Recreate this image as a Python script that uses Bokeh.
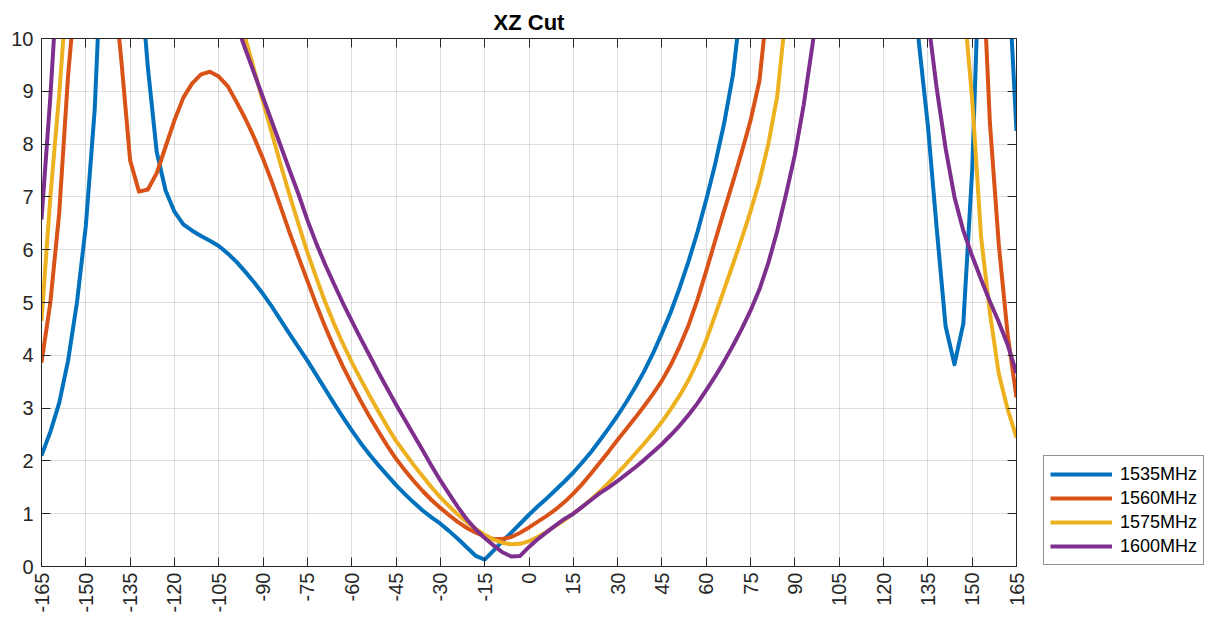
import math
from bokeh.plotting import figure
from bokeh.layouts import row
from bokeh.models import Range1d, FixedTicker, LinearAxis, Legend, LegendItem
from bokeh.embed import file_html
from bokeh.resources import INLINE

angles = [-165, -162, -159, -156, -153, -150, -147, -144, -141, -138,
          -135, -132, -129, -126, -123, -120, -117, -114, -111, -108,
          -105, -102, -99, -96, -93, -90, -87, -84, -81, -78,
          -75, -72, -69, -66, -63, -60, -57, -54, -51, -48,
          -45, -42, -39, -36, -33, -30, -27, -24, -21, -18,
          -15, -12, -9, -6, -3, 0, 3, 6, 9, 12,
          15, 18, 21, 24, 27, 30, 33, 36, 39, 42,
          45, 48, 51, 54, 57, 60, 63, 66, 69, 72,
          75, 78, 81, 84, 87, 90, 93, 96, 99, 102,
          105, 108, 111, 114, 117, 120, 123, 126, 129, 132,
          135, 138, 141, 144, 147, 150, 153, 156, 159, 162,
          165]

s1535 = [2.10, 2.55, 3.10, 3.90, 5.00, 6.45, 8.65, 12.5, 16.0, 18.0,
         16.0, 11.5, 9.45, 7.85, 7.12, 6.72, 6.48, 6.36, 6.26, 6.17,
         6.07, 5.93, 5.77, 5.58, 5.38, 5.16, 4.92, 4.66, 4.40, 4.15,
         3.90, 3.63, 3.36, 3.09, 2.83, 2.58, 2.34, 2.12, 1.92, 1.73,
         1.54, 1.37, 1.21, 1.06, 0.93, 0.81, 0.67, 0.52, 0.36, 0.20,
         0.13, 0.30, 0.48, 0.64, 0.81, 0.98, 1.14, 1.29, 1.45, 1.61,
         1.78, 1.97, 2.17, 2.39, 2.62, 2.86, 3.12, 3.40, 3.70, 4.04,
         4.42, 4.82, 5.28, 5.78, 6.33, 6.95, 7.62, 8.38, 9.30, 10.75,
         12.5, 14.5, 16.5, 18.5, 20.0, 21.0, 22.0, 22.5, 23.0, 23.0,
         22.5, 22.0, 21.0, 20.0, 18.5, 17.0, 15.5, 13.8, 12.1, 9.90,
         8.35, 6.40, 4.55, 3.83, 4.60, 7.50, 12.5, 15.0, 15.0, 11.5,
         8.25]

s1560 = [3.86, 5.00, 6.70, 9.30, 11.2, 14.0, 16.0, 14.0, 11.3, 9.60,
         7.69, 7.10, 7.14, 7.45, 7.95, 8.45, 8.88, 9.15, 9.32, 9.37,
         9.28, 9.10, 8.80, 8.48, 8.12, 7.72, 7.28, 6.80, 6.32, 5.86,
         5.41, 4.96, 4.54, 4.15, 3.79, 3.46, 3.14, 2.84, 2.56, 2.29,
         2.04, 1.82, 1.62, 1.43, 1.26, 1.11, 0.97, 0.84, 0.73, 0.64,
         0.57, 0.52, 0.52, 0.56, 0.64, 0.74, 0.85, 0.96, 1.08, 1.22,
         1.38, 1.56, 1.76, 1.97, 2.18, 2.40, 2.61, 2.82, 3.04, 3.27,
         3.52, 3.82, 4.17, 4.57, 5.05, 5.60, 6.17, 6.73, 7.28, 7.85,
         8.45, 9.20, 10.8, 13.0, 15.0, 17.0, 18.5, 19.5, 20.0, 20.0,
         20.0, 19.5, 19.0, 18.5, 18.0, 17.5, 17.0, 16.5, 16.0, 16.0,
         16.0, 16.5, 17.0, 17.0, 16.5, 15.0, 12.1, 8.40, 6.10, 4.40,
         3.20]

s1575 = [4.65, 7.00, 8.95, 11.2, 14.0, 16.0, 18.0, 19.0, 20.0, 20.0,
         20.0, 19.5, 19.0, 18.0, 17.0, 16.0, 15.0, 14.0, 13.0, 12.3,
         11.7, 11.2, 10.62, 10.0, 9.40, 8.80, 8.20, 7.60, 7.03, 6.48,
         5.95, 5.47, 5.01, 4.60, 4.22, 3.87, 3.55, 3.24, 2.94, 2.65,
         2.38, 2.15, 1.92, 1.71, 1.50, 1.31, 1.14, 0.98, 0.84, 0.71,
         0.60, 0.51, 0.45, 0.42, 0.43, 0.48, 0.56, 0.66, 0.77, 0.88,
         1.00, 1.13, 1.27, 1.42, 1.59, 1.77, 1.95, 2.14, 2.33, 2.53,
         2.74, 2.98, 3.24, 3.53, 3.88, 4.29, 4.76, 5.24, 5.72, 6.21,
         6.73, 7.30, 8.00, 8.90, 10.5, 12.5, 14.5, 16.0, 17.0, 18.0,
         18.5, 19.0, 19.0, 18.5, 18.0, 17.0, 16.0, 15.0, 14.0, 13.0,
         12.5, 12.0, 11.6, 11.2, 10.77, 8.85, 6.25, 4.80, 3.65, 2.98,
         2.44]

s1600 = [6.57, 8.90, 11.65, 14.0, 16.0, 18.0, 19.0, 20.0, 20.0, 19.5,
         19.0, 18.0, 17.0, 16.0, 15.0, 14.2, 13.5, 12.8, 12.2, 11.7,
         11.2, 10.75, 10.27, 9.80, 9.34, 8.88, 8.42, 7.96, 7.50, 7.05,
         6.56, 6.12, 5.72, 5.35, 4.99, 4.65, 4.32, 4.00, 3.68, 3.37,
         3.07, 2.78, 2.49, 2.20, 1.91, 1.63, 1.37, 1.12, 0.89, 0.70,
         0.54, 0.40, 0.27, 0.19, 0.20, 0.37, 0.52, 0.65, 0.78, 0.90,
         1.00, 1.13, 1.26, 1.39, 1.50, 1.62, 1.75, 1.88, 2.02, 2.17,
         2.32, 2.49, 2.67, 2.87, 3.09, 3.34, 3.60, 3.88, 4.18, 4.50,
         4.85, 5.25, 5.75, 6.35, 7.05, 7.80, 8.75, 9.90, 11.2, 12.5,
         13.5, 14.5, 15.5, 16.0, 16.0, 15.5, 15.0, 14.0, 13.0, 11.8,
         10.4, 9.05, 7.92, 7.00, 6.36, 5.88, 5.44, 5.02, 4.63, 4.20,
         3.66]

series_names = ["1535MHz", "1560MHz", "1575MHz", "1600MHz"]
series_values = [s1535, s1560, s1575, s1600]
colors = ["#0072BD", "#D95319", "#EDB120", "#7E2F8E"]

x_ticks = [-165, -150, -135, -120, -105, -90, -75, -60, -45, -30, -15,
           0, 15, 30, 45, 60, 75, 90, 105, 120, 135, 150, 165]
x_tick_labels = ["-165", "-150", "-135", "-120", "-105", "-90", "-75", "-60",
                 "-45", "-30", "-15", "0", "15", "30", "45", "60", "75", "90",
                 "105", "120", "135", "150", "165"]
y_ticks = [0, 1, 2, 3, 4, 5, 6, 7, 8, 9, 10]
y_tick_labels = ["0", "1", "2", "3", "4", "5", "6", "7", "8", "9", "10"]

FONT = "Liberation Sans"
AX = "#262626"
TOTAL_H = 614
LEFT, FRAME_W, RIGHT = 41, 975, 16

p = figure(frame_width=FRAME_W, frame_height=528,
           x_range=Range1d(-165, 165), y_range=Range1d(0, 10),
           output_backend="svg", toolbar_location=None,
           min_border_left=LEFT, min_border_right=RIGHT,
           min_border_top=38, min_border_bottom=TOTAL_H - 38 - 528,
           background_fill_color="white", border_fill_color="white")

p.title.text = "XZ Cut"
p.title.align = "center"
p.title.text_font = FONT
p.title.text_font_size = "22px"
p.title.text_font_style = "bold"
p.title.text_color = "#000000"
p.title.standoff = 7

xt = FixedTicker(ticks=x_ticks)
yt = FixedTicker(ticks=y_ticks)

def style_axis(ax, ticker, show_labels):
    ax.ticker = ticker
    ax.axis_line_color = AX
    ax.axis_line_width = 1
    ax.major_tick_line_color = AX
    ax.major_tick_in = 9
    ax.major_tick_out = 0
    ax.minor_tick_line_color = None
    ax.major_label_text_font = FONT
    if show_labels:
        ax.major_label_text_color = AX
        ax.major_label_text_font_size = "20px"
    else:
        ax.major_label_text_color = None
        ax.major_label_text_font_size = "1px"
        ax.major_label_standoff = 0

style_axis(p.xaxis[0], xt, True)
style_axis(p.yaxis[0], yt, True)
p.xaxis[0].major_label_overrides = dict(zip(x_ticks, x_tick_labels))
p.yaxis[0].major_label_overrides = dict(zip(y_ticks, y_tick_labels))
p.xaxis[0].major_label_orientation = math.pi / 2
p.xaxis[0].major_label_standoff = 6
p.yaxis[0].major_label_standoff = 8

top = LinearAxis()
style_axis(top, xt, False)
p.add_layout(top, "above")
right = LinearAxis()
style_axis(right, yt, False)
p.add_layout(right, "right")

p.xgrid.ticker = xt
p.ygrid.ticker = yt
for g in (p.xgrid[0], p.ygrid[0]):
    g.grid_line_color = AX
    g.grid_line_alpha = 0.15
    g.grid_line_width = 1
p.outline_line_color = AX

for vals, col in zip(series_values, colors):
    p.line(angles, vals, line_color=col, line_width=4, line_join="round")

# Legend panel beside the axes: same series drawn in a view range far from
# the data (so nothing shows), used only as legend glyph sources.
LEG_W = 1204 - LEFT - FRAME_W - RIGHT
pl = figure(width=LEG_W, height=TOTAL_H,
            x_range=Range1d(1000, 1001), y_range=Range1d(1000, 1001),
            x_axis_type=None, y_axis_type=None, output_backend="svg",
            toolbar_location=None, min_border=0,
            background_fill_color="white", border_fill_color="white")
pl.grid.visible = False
pl.outline_line_color = None

items = []
for name, vals, col in zip(series_names, series_values, colors):
    r = pl.line(angles, vals, line_color=col, line_width=4)
    items.append(LegendItem(label=name, renderers=[r]))

legend = Legend(items=items, location=(1043 - (LEFT + FRAME_W + RIGHT), 0))
legend.label_text_font = FONT
legend.label_text_font_size = "18px"
legend.label_text_color = "#000000"
legend.border_line_color = AX
legend.border_line_width = 1
legend.background_fill_color = "white"
legend.background_fill_alpha = 1
legend.glyph_width = 62
legend.glyph_height = 24
legend.label_height = 24
legend.label_standoff = 8
legend.spacing = 0
legend.padding = 6
legend.margin = 0
pl.add_layout(legend)

layout = row(p, pl)
open("out.html", "w").write(file_html(layout, INLINE))
